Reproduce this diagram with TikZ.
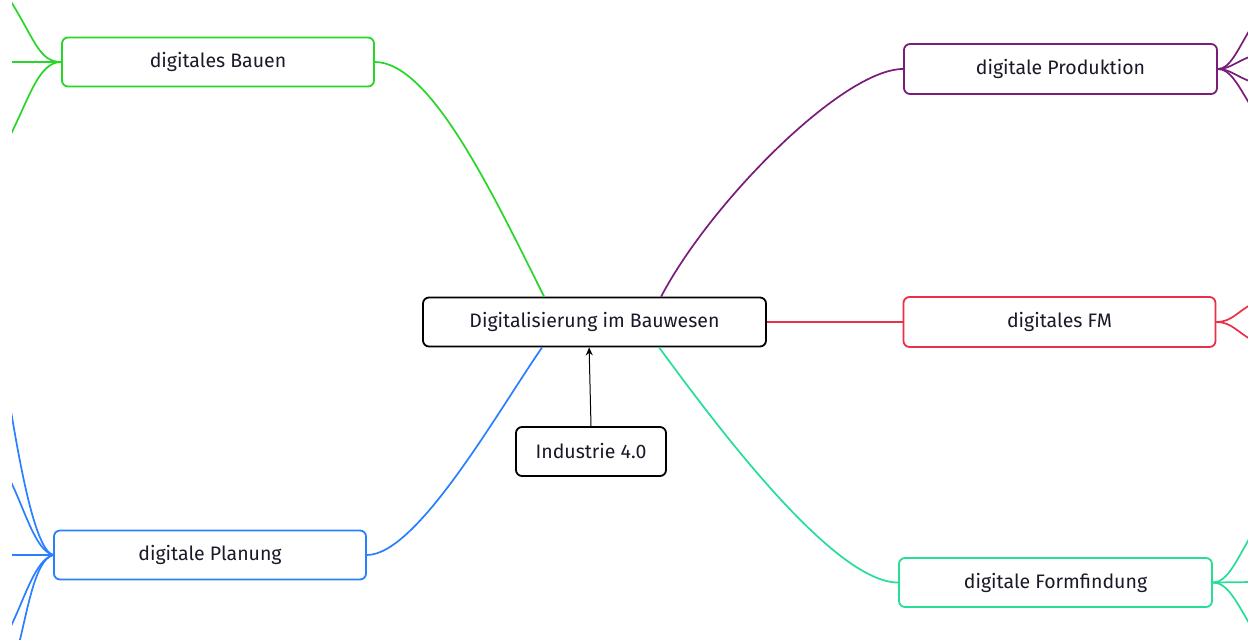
\documentclass[tikz,border=0pt]{standalone}
\usepackage{fontspec}
\setmainfont{Fira Sans}
\usetikzlibrary{calc,arrows.meta}
\definecolor{cgreen}{RGB}{40,214,40}
\definecolor{cpurple}{RGB}{122,28,122}
\definecolor{cred}{RGB}{234,48,72}
\definecolor{cteal}{RGB}{38,222,150}
\definecolor{cblue}{RGB}{40,128,255}
\definecolor{ctext}{RGB}{25,25,40}
\tikzset{
  box/.style={draw, rounded corners=6pt, line width=1.8pt, minimum width=312pt, minimum height=49pt, inner sep=0pt, font=\fontsize{19.5}{22}\selectfont, text=ctext},
  conn/.style={line width=1.7pt},
}
\begin{document}
\begin{tikzpicture}[x=1pt,y=-1pt]
\useasboundingbox (0,0) rectangle (1248,640);
\fill[white] (0,0) rectangle (1248,640);
\begin{scope}
\clip (12,0) rectangle (1248,640);
% nodes
\node[box, draw=cgreen] (bauen) at (218,62) {digitales Bauen};
\node[box, draw=cpurple, minimum width=313pt, minimum height=50pt] (prod) at (1060.5,69) {digitale Produktion};
\node[box, draw=black, minimum width=343pt] (c) at (594.5,322) {Digitalisierung im Bauwesen};
\node[box, draw=cred, minimum height=50pt] (fm) at (1059.5,322) {digitales FM};
\node[box, draw=black, minimum width=150pt] (ind) at (591,451.5) {Industrie 4.0};
\node[box, draw=cblue] (plan) at (210,555) {digitale Planung};
\node[box, draw=cteal, minimum width=313pt] (form) at (1055.5,582.5) {digitale Formfindung};
% main connectors
\draw[conn, cgreen] (bauen.east) .. controls +(56,0) and +(-50,-100) .. ($(c.north west)+(122,0)$);
\draw[conn, cpurple] ($(c.north west)+(239,0)$) .. controls +(50,-95) and +(-60,0) .. (prod.west);
\draw[conn, cred] (c.east) -- (fm.west);
\draw[conn, cteal] ($(c.south west)+(237,0)$) .. controls +(55,75) and +(-65,0) .. (form.west);
\draw[conn, cblue] ($(c.south west)+(120,0)$) .. controls +(-45,65) and +(50,0) .. (plan.east);
\draw[-{Stealth[length=8pt,width=7pt]}, line width=1pt] (ind.north) -- ($(c.south west)+(167,0)$);
% outer branches
\coordinate (b1) at (10,0);
\coordinate (b2) at (10,62);
\coordinate (b3) at (10,136);
\draw[conn, cgreen] (bauen.west) .. controls +(-22,0) and +(25,40) .. (b1);
\draw[conn, cgreen] (bauen.west) -- (b2);
\draw[conn, cgreen] (bauen.west) .. controls +(-22,0) and +(20,-40) .. (b3);
\coordinate (p1) at (10,405);
\coordinate (p2) at (10,480);
\coordinate (p3) at (10,555);
\coordinate (p4) at (10,628);
\coordinate (p5) at (18,648);
\draw[conn, cblue] (plan.west) .. controls +(-18,-5) and +(10,60) .. (p1);
\draw[conn, cblue] (plan.west) .. controls +(-18,-5) and +(15,30) .. (p2);
\draw[conn, cblue] (plan.west) -- (p3);
\draw[conn, cblue] (plan.west) .. controls +(-18,5) and +(15,-30) .. (p4);
\draw[conn, cblue] (plan.west) .. controls +(-18,5) and +(10,-40) .. (p5);
\coordinate (d1) at (1252,26);
\coordinate (d2) at (1252,56);
\coordinate (d3) at (1252,82);
\coordinate (d4) at (1252,108);
\draw[conn, cpurple] (prod.east) .. controls +(12,0) and +(-15,25) .. (d1);
\draw[conn, cpurple] (prod.east) .. controls +(12,0) and +(-15,5) .. (d2);
\draw[conn, cpurple] (prod.east) .. controls +(12,0) and +(-15,-5) .. (d3);
\draw[conn, cpurple] (prod.east) .. controls +(12,0) and +(-15,-25) .. (d4);
\coordinate (f1) at (1252,304);
\coordinate (f2) at (1252,340);
\draw[conn, cred] (fm.east) .. controls +(15,0) and +(-15,8) .. (f1);
\draw[conn, cred] (fm.east) .. controls +(15,0) and +(-15,-8) .. (f2);
\coordinate (g1) at (1252,534);
\coordinate (g2) at (1252,582);
\coordinate (g3) at (1252,628);
\draw[conn, cteal] (form.east) .. controls +(15,0) and +(-15,25) .. (g1);
\draw[conn, cteal] (form.east) -- (g2);
\draw[conn, cteal] (form.east) .. controls +(15,0) and +(-15,-25) .. (g3);
\end{scope}
\end{tikzpicture}
\end{document}
